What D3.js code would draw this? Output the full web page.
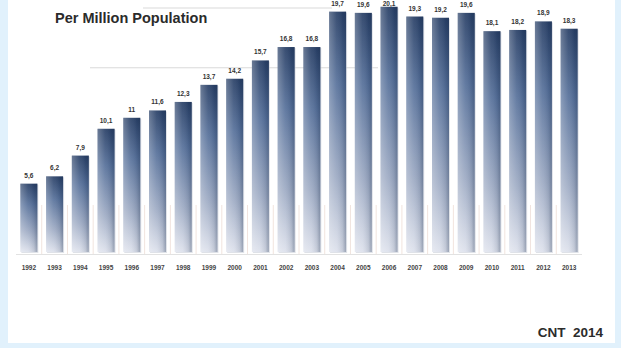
<!DOCTYPE html>
<html>
<head>
<meta charset="utf-8">
<script src="https://cdn.jsdelivr.net/npm/d3@7"></script>
<style>
  body { margin: 0; background: #e1f1fc; }
  svg { display: block; font-family: Arial, "Liberation Sans", sans-serif; }
</style>
</head>
<body>
<div id="chart"></div>
<script>
// chart size
var svgWidth = 621;
var svgHeight = 348;

// data
var years = ["1992", "1993", "1994", "1995", "1996", "1997", "1998", "1999", "2000", "2001", "2002",
             "2003", "2004", "2005", "2006", "2007", "2008", "2009", "2010", "2011", "2012", "2013"];
var donorsPmp = [5.6, 6.2, 7.9, 10.1, 11, 11.6, 12.3, 13.7, 14.2, 15.7, 16.8,
                 16.8, 19.7, 19.6, 20.1, 19.3, 19.2, 19.6, 18.1, 18.2, 18.9, 18.3];
var gridValues = [15.1, 20];

var data = years.map(function(y, i) { return { year: y, value: donorsPmp[i] }; });

var svg = d3.select("#chart")
  .append("svg")
  .attr("width", svgWidth)
  .attr("height", svgHeight);

// light blue frame, white panel
svg.append("rect")
  .attr("width", svgWidth).attr("height", svgHeight)
  .attr("fill", "#e1f1fc");
svg.append("rect")
  .attr("x", 8).attr("y", 0)
  .attr("width", 607).attr("height", 343)
  .attr("fill", "#ffffff");

// gradients for the bars
var defs = svg.append("defs");
var vGrad = defs.append("linearGradient")
  .attr("id", "barV").attr("x1", 0).attr("y1", 0).attr("x2", 0).attr("y2", 1);
vGrad.append("stop").attr("offset", "0%").attr("stop-color", "#283f66");
vGrad.append("stop").attr("offset", "30%").attr("stop-color", "#56709a");
vGrad.append("stop").attr("offset", "70%").attr("stop-color", "#9eabc4");
vGrad.append("stop").attr("offset", "100%").attr("stop-color", "#dde1ec");

var hGrad = defs.append("linearGradient")
  .attr("id", "barH").attr("x1", 0).attr("y1", 0).attr("x2", 1).attr("y2", 0);
hGrad.append("stop").attr("offset", "0%").attr("stop-color", "#ffffff").attr("stop-opacity", 0.3);
hGrad.append("stop").attr("offset", "45%").attr("stop-color", "#ffffff").attr("stop-opacity", 0.08);
hGrad.append("stop").attr("offset", "80%").attr("stop-color", "#1c2f4d").attr("stop-opacity", 0.12);
hGrad.append("stop").attr("offset", "100%").attr("stop-color", "#1c2f4d").attr("stop-opacity", 0.35);

// scales
var xBandScale = d3.scaleBand()
  .domain(years)
  .range([16, 582])
  .paddingInner(0.34)
  .paddingOuter(0.17);

var yLinearScale = d3.scaleLinear()
  .domain([0, 20])
  .range([252, 8]);

// faint grid lines that show behind the bars
svg.selectAll(".grid")
  .data(gridValues)
  .enter()
  .append("line")
  .attr("class", "grid")
  .attr("x1", (d, i) => i === 0 ? 90 : 143)
  .attr("x2", (d, i) => i === 0 ? 378 : 332)
  .attr("y1", d => yLinearScale(d))
  .attr("y2", d => yLinearScale(d))
  .attr("stroke", "#d9d9d9")
  .attr("stroke-width", 1);

// faint separators between bars
svg.selectAll(".sep")
  .data(years.slice(1))
  .enter()
  .append("line")
  .attr("class", "sep")
  .attr("x1", d => xBandScale(d) - xBandScale.step() * xBandScale.paddingInner() / 2)
  .attr("x2", d => xBandScale(d) - xBandScale.step() * xBandScale.paddingInner() / 2)
  .attr("y1", 205)
  .attr("y2", 254)
  .attr("stroke", "#f1e4de")
  .attr("stroke-width", 1);

// baseline
svg.append("line")
  .attr("x1", xBandScale.range()[0]).attr("x2", xBandScale.range()[1])
  .attr("y1", 254.5).attr("y2", 254.5)
  .attr("stroke", "#e2e2e2");

// bars
var bars = svg.selectAll(".bar")
  .data(data)
  .enter()
  .append("g")
  .attr("class", "bar");

bars.append("rect")
  .attr("x", d => xBandScale(d.year) + 1)
  .attr("y", d => yLinearScale(d.value) + 1)
  .attr("width", xBandScale.bandwidth())
  .attr("height", d => yLinearScale(0) - yLinearScale(d.value))
  .attr("fill", "#c9cfd9")
  .attr("opacity", 0.6);

bars.append("rect")
  .attr("x", d => xBandScale(d.year))
  .attr("y", d => yLinearScale(d.value))
  .attr("width", xBandScale.bandwidth())
  .attr("height", d => yLinearScale(0) - yLinearScale(d.value))
  .attr("fill", "url(#barV)");

bars.append("rect")
  .attr("x", d => xBandScale(d.year))
  .attr("y", d => yLinearScale(d.value))
  .attr("width", xBandScale.bandwidth())
  .attr("height", d => yLinearScale(0) - yLinearScale(d.value))
  .attr("fill", "url(#barH)");

// value labels, italian decimal comma
var fmt = function(v) { return String(v).replace(".", ","); };
svg.selectAll(".val")
  .data(data)
  .enter()
  .append("text")
  .attr("class", "val")
  .attr("x", d => xBandScale(d.year) + xBandScale.bandwidth() / 2)
  .attr("y", d => Math.max(yLinearScale(d.value) - 6, 6))
  .attr("text-anchor", "middle")
  .attr("font-size", "6.5px")
  .attr("font-weight", "bold")
  .attr("fill", "#333")
  .text(d => fmt(d.value));

// year axis
var bottomAxis = d3.axisBottom(xBandScale).tickSize(0).tickPadding(11);
var xAxis = svg.append("g")
  .attr("transform", "translate(0, 254)")
  .call(bottomAxis);
xAxis.select(".domain").remove();
xAxis.selectAll("text")
  .attr("font-size", "6.5px")
  .attr("font-weight", "bold")
  .attr("font-family", "Arial, 'Liberation Sans', sans-serif")
  .attr("fill", "#444");

// title
svg.append("text")
  .attr("x", 55)
  .attr("y", 23)
  .attr("font-size", "14.5px")
  .attr("font-weight", "bold")
  .attr("fill", "#2b2b2b")
  .text("Per Million Population");

// source
svg.append("text")
  .attr("x", 603)
  .attr("y", 337)
  .attr("text-anchor", "end")
  .attr("font-size", "13.5px")
  .attr("font-weight", "bold")
  .attr("fill", "#2b2b2b")
  .attr("xml:space", "preserve")
  .text("CNT  2014");
</script>
</body>
</html>
